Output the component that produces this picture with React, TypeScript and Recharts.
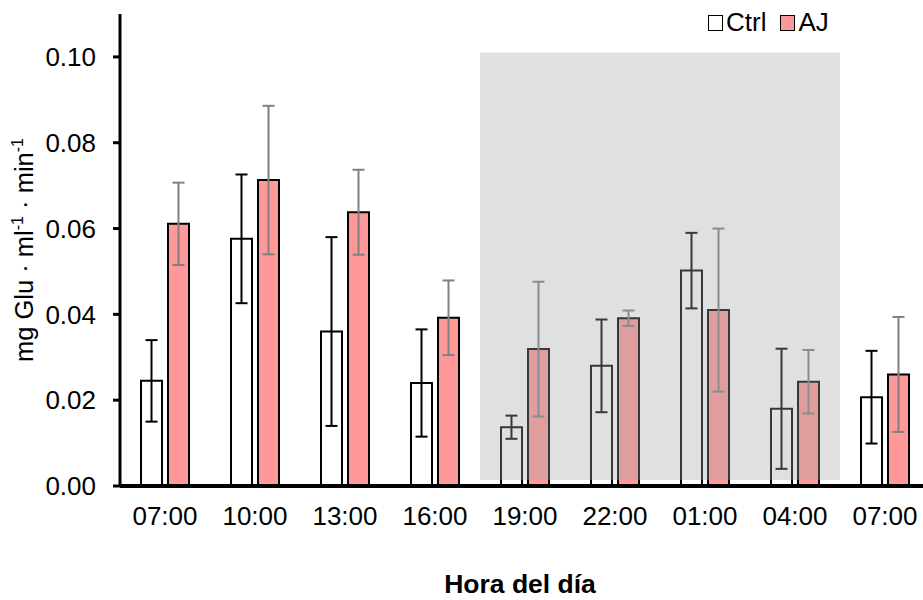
import { BarChart, Bar, XAxis, YAxis, ErrorBar, ReferenceArea } from 'recharts'

// time of day labels (the last 07:00 is the next morning)
const hours = ['07:00', '10:00', '13:00', '16:00', '19:00', '22:00', '01:00', '04:00', '07:00']

// mg Glu · ml-1 · min-1, mean and error
const ctrlMean = [0.0245, 0.0576, 0.036, 0.024, 0.0137, 0.028, 0.0502, 0.018, 0.0207]
const ctrlErr = [0.0095, 0.015, 0.022, 0.0125, 0.0027, 0.0108, 0.0088, 0.014, 0.0108]
const ajMean = [0.0611, 0.0713, 0.0638, 0.0392, 0.0319, 0.0391, 0.041, 0.0243, 0.026]
const ajErr = [0.0096, 0.0173, 0.0099, 0.0087, 0.0157, 0.0018, 0.019, 0.0074, 0.0134]

const yTicks = [0, 0.02, 0.04, 0.06, 0.08, 0.1]

// dark period shading (from 19:00 to 04:00 slot)
const nightStart = 4
const nightEnd = 7
const nightTop = 0.101
const nightBottom = 0.0014

const FONT = 'Liberation Sans, Arial, sans-serif'

const chartData = hours.map((h, i) => ({
  i,
  ctrl: ctrlMean[i],
  ctrlErr: ctrlErr[i],
  aj: ajMean[i],
  ajErr: ajErr[i],
}))

function YLabel(props: any) {
  const vb = props.viewBox || {}
  const cx = 33
  const cy = vb.y + vb.height / 2
  return (
    <text
      x={cx}
      y={cy}
      transform={`rotate(-90, ${cx}, ${cy})`}
      textAnchor="middle"
      fontFamily={FONT}
      fontSize={25.5}
      fill="#000"
    >
      mg Glu · ml<tspan dy={-10} fontSize={16}>-1</tspan>
      <tspan dy={10}> · min</tspan>
      <tspan dy={-10} fontSize={16}>-1</tspan>
    </text>
  )
}

function XLabel(props: any) {
  const vb = props.viewBox || {}
  return (
    <text
      x={vb.x + vb.width / 2 - 5}
      y={593}
      textAnchor="middle"
      fontFamily={FONT}
      fontSize={26.5}
      fontWeight="bold"
      fill="#000"
    >
      Hora del día
    </text>
  )
}

function LegendBox() {
  const item = (label: string, fill: string) => (
    <div style={{ display: 'flex', alignItems: 'center', marginRight: 14 }}>
      <div
        style={{
          width: 13,
          height: 14,
          background: fill,
          border: '1.5px solid #000',
          marginRight: 3,
        }}
      />
      <span style={{ fontFamily: FONT, fontSize: 26, color: '#000' }}>{label}</span>
    </div>
  )
  return (
    <div style={{ position: 'absolute', top: 7, left: 708, display: 'flex', alignItems: 'center' }}>
      {item('Ctrl', '#ffffff')}
      {item('AJ', '#ff9999')}
    </div>
  )
}

export default function App() {
  return (
    <div
      style={{
        position: 'fixed',
        left: 0,
        top: 0,
        width: 923,
        height: 600,
        overflow: 'hidden',
        background: '#fff',
      }}
    >
      <BarChart
        width={940}
        height={600}
        data={chartData}
        margin={{ top: 14, right: 10, bottom: 0, left: 0 }}
        barSize={21}
        barGap={6}
      >
        <XAxis
          dataKey="i"
          type="category"
          height={114}
          axisLine={{ stroke: '#000', strokeWidth: 4 }}
          tickLine={false}
          tickSize={6}
          tickMargin={15}
          tick={{ fill: '#000', fontSize: 26, fontFamily: FONT }}
          tickFormatter={(v) => hours[v]}
          label={<XLabel />}
        />
        <YAxis
          width={120}
          domain={[0, 0.11]}
          ticks={yTicks}
          allowDataOverflow
          axisLine={{ stroke: '#000', strokeWidth: 3 }}
          tickLine={{ stroke: '#000', strokeWidth: 3 }}
          tickSize={7}
          tickMargin={17}
          tick={{ fill: '#000', fontSize: 26, fontFamily: FONT }}
          tickFormatter={(v) => v.toFixed(2)}
          label={<YLabel />}
        />
        <Bar dataKey="ctrl" fill="#ffffff" stroke="#000" strokeWidth={2} isAnimationActive={false}>
          <ErrorBar dataKey="ctrlErr" width={6} stroke="#000" strokeWidth={2} direction="y" />
        </Bar>
        <Bar dataKey="aj" fill="#ff9999" stroke="#000" strokeWidth={2} isAnimationActive={false}>
          <ErrorBar dataKey="ajErr" width={6} stroke="#808080" strokeWidth={2} direction="y" />
        </Bar>
        <ReferenceArea
          x1={nightStart}
          x2={nightEnd}
          y1={nightBottom}
          y2={nightTop}
          fill="#a5a5a5"
          fillOpacity={0.34}
          stroke="none"
          zIndex={1000}
        />
      </BarChart>
      <LegendBox />
    </div>
  )
}
